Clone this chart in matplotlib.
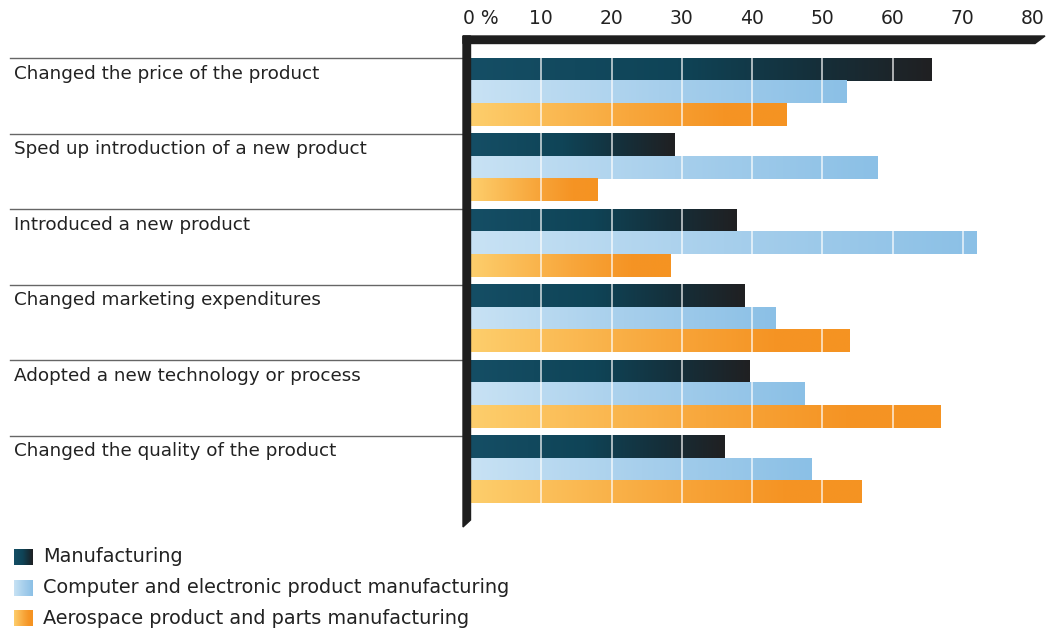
import numpy as np
import matplotlib
matplotlib.use('Agg')
import matplotlib.pyplot as plt
from matplotlib.colors import LinearSegmentedColormap
from matplotlib.patches import Polygon
import matplotlib.transforms as mtransforms

plt.rcParams['font.family'] = ['DejaVu Sans']

# data
categories = ['Changed the price of the product',
              'Sped up introduction of a new product',
              'Introduced a new product',
              'Changed marketing expenditures',
              'Adopted a new technology or process',
              'Changed the quality of the product']
series = ['Manufacturing',
          'Computer and electronic product manufacturing',
          'Aerospace product and parts manufacturing']
manufacturing = [65.5, 28.9, 37.8, 38.9, 39.6, 36.1]
computer = [53.4, 57.8, 72.0, 43.4, 47.5, 48.5]
aerospace = [44.9, 18.0, 28.4, 53.9, 66.8, 55.6]
ticks = [0, 10, 20, 30, 40, 50, 60, 70, 80]
tick_labels = ['', '10', '20', '30', '40', '50', '60', '70', '80']

W, H = 1052, 635
fig = plt.figure(figsize=(W / 100, H / 100), dpi=100)

def fx(px):
    return px / W

def fy(py):
    return 1 - py / H

top_px, grp_px = 58.3, 75.5
ax = fig.add_axes([fx(471), fy(top_px + 6 * grp_px), fx(1033) - fx(471), (6 * grp_px) / H])

cmaps = [
    LinearSegmentedColormap.from_list('m', [(0, '#154e65'), (0.45, '#0f4457'), (0.75, '#152f3a'), (1, '#202022')]),
    LinearSegmentedColormap.from_list('c', [(0, '#c8e2f4'), (0.5, '#a7cfec'), (1, '#8bc0e6')]),
    LinearSegmentedColormap.from_list('a', [(0, '#fdce6c'), (0.5, '#f8a73c'), (0.8, '#f59424'), (1, '#f59322')]),
]
bh = 22.5 / grp_px
grad = np.linspace(0, 1, 256).reshape(1, -1)
ypos = np.arange(len(categories))

for k, vals in enumerate([manufacturing, computer, aerospace]):
    bars = ax.barh(ypos + k * bh, vals, height=bh, align='edge', color='none', linewidth=0)
    for b in bars:
        x0, y0 = b.get_x(), b.get_y()
        ax.imshow(grad, extent=[x0, x0 + b.get_width(), y0 + b.get_height(), y0],
                  cmap=cmaps[k], aspect='auto', interpolation='bilinear', zorder=2)

ax.set_xlim(0, 80)
ax.set_ylim(6, 0)
for s in ax.spines.values():
    s.set_visible(False)
ax.set_yticks([])
ax.xaxis.tick_top()
ax.set_xticks(ticks)
ax.set_xticklabels(tick_labels, fontsize=13.5, color='#222222')
ax.tick_params(axis='x', length=0, pad=22)
ax.text(0, 1, '0 %', transform=mtransforms.offset_copy(ax.get_xaxis_transform(), fig=fig, x=-6, y=22, units='points'),
        ha='left', va='bottom', fontsize=13.5, color='#222222')

# white grid lines over the bars and the top frame
for t in ticks[1:]:
    ax.plot([t, t], [-22.3 / grp_px, 6], color='white', alpha=0.7, lw=1.3, zorder=5, clip_on=False)

# black frame
frame_col = '#1e1e1e'
fig.patches.append(Polygon([(fx(463), fy(36)), (fx(1045), fy(36)), (fx(1035), fy(43.5)), (fx(463), fy(43.5))],
                           closed=True, transform=fig.transFigure, color=frame_col, zorder=4))
fig.patches.append(Polygon([(fx(463), fy(36)), (fx(470.5), fy(36)), (fx(470.5), fy(520)), (fx(463), fy(527))],
                           closed=True, transform=fig.transFigure, color=frame_col, zorder=4))
ax.set_zorder(1)

# separators and category labels
blend = mtransforms.blended_transform_factory(fig.transFigure, ax.transData)
for i, c in enumerate(categories):
    ax.plot([fx(10), fx(463)], [i, i], transform=blend, color='#666666', lw=1.0, clip_on=False)
    ax.text(fx(14), i + 0.085, c, transform=blend, ha='left', va='top', fontsize=13.2, color='#222222')

# legend
for k, name in enumerate(series):
    yc = 557 + k * 30.5
    lax = fig.add_axes([fx(14), fy(yc + 8), fx(33) - fx(14), 16 / H])
    lax.imshow(grad, cmap=cmaps[k], aspect='auto', interpolation='bilinear')
    lax.axis('off')
    fig.text(fx(43), fy(yc), name, ha='left', va='center', fontsize=13.9, color='#222222')

fig.savefig('out.png', dpi=100)
